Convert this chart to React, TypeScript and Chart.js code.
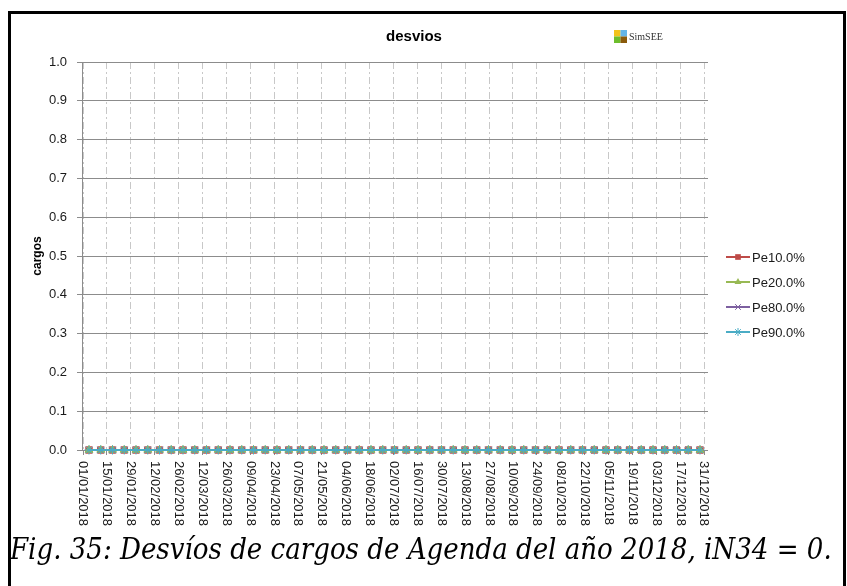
import React, { useEffect, useRef } from 'react';
import { Chart, registerables } from 'chart.js';

Chart.register(...registerables);

// ---- data ----
const weekDates = [
  '01/01/2018', '08/01/2018', '15/01/2018', '22/01/2018', '29/01/2018',
  '05/02/2018', '12/02/2018', '19/02/2018', '26/02/2018',
  '05/03/2018', '12/03/2018', '19/03/2018', '26/03/2018',
  '02/04/2018', '09/04/2018', '16/04/2018', '23/04/2018', '30/04/2018',
  '07/05/2018', '14/05/2018', '21/05/2018', '28/05/2018',
  '04/06/2018', '11/06/2018', '18/06/2018', '25/06/2018',
  '02/07/2018', '09/07/2018', '16/07/2018', '23/07/2018', '30/07/2018',
  '06/08/2018', '13/08/2018', '20/08/2018', '27/08/2018',
  '03/09/2018', '10/09/2018', '17/09/2018', '24/09/2018',
  '01/10/2018', '08/10/2018', '15/10/2018', '22/10/2018', '29/10/2018',
  '05/11/2018', '12/11/2018', '19/11/2018', '26/11/2018',
  '03/12/2018', '10/12/2018', '17/12/2018', '24/12/2018', '31/12/2018',
];

const tickLabels = [
  '01/01/2018', '15/01/2018', '29/01/2018', '12/02/2018', '26/02/2018',
  '12/03/2018', '26/03/2018', '09/04/2018', '23/04/2018', '07/05/2018',
  '21/05/2018', '04/06/2018', '18/06/2018', '02/07/2018', '16/07/2018',
  '30/07/2018', '13/08/2018', '27/08/2018', '10/09/2018', '24/09/2018',
  '08/10/2018', '22/10/2018', '05/11/2018', '19/11/2018', '03/12/2018',
  '17/12/2018', '31/12/2018',
];

const yTicks = [0.0, 0.1, 0.2, 0.3, 0.4, 0.5, 0.6, 0.7, 0.8, 0.9, 1.0];

const pe10 = [
  0, 0, 0, 0, 0, 0, 0, 0, 0, 0, 0, 0, 0, 0, 0, 0, 0, 0, 0, 0, 0, 0, 0, 0, 0, 0, 0,
  0, 0, 0, 0, 0, 0, 0, 0, 0, 0, 0, 0, 0, 0, 0, 0, 0, 0, 0, 0, 0, 0, 0, 0, 0, 0,
];
const pe20 = [
  0, 0, 0, 0, 0, 0, 0, 0, 0, 0, 0, 0, 0, 0, 0, 0, 0, 0, 0, 0, 0, 0, 0, 0, 0, 0, 0,
  0, 0, 0, 0, 0, 0, 0, 0, 0, 0, 0, 0, 0, 0, 0, 0, 0, 0, 0, 0, 0, 0, 0, 0, 0, 0,
];
const pe80 = [
  0, 0, 0, 0, 0, 0, 0, 0, 0, 0, 0, 0, 0, 0, 0, 0, 0, 0, 0, 0, 0, 0, 0, 0, 0, 0, 0,
  0, 0, 0, 0, 0, 0, 0, 0, 0, 0, 0, 0, 0, 0, 0, 0, 0, 0, 0, 0, 0, 0, 0, 0, 0, 0,
];
const pe90 = [
  0, 0, 0, 0, 0, 0, 0, 0, 0, 0, 0, 0, 0, 0, 0, 0, 0, 0, 0, 0, 0, 0, 0, 0, 0, 0, 0,
  0, 0, 0, 0, 0, 0, 0, 0, 0, 0, 0, 0, 0, 0, 0, 0, 0, 0, 0, 0, 0, 0, 0, 0, 0, 0,
];

const seriesNames = ['Pe10.0%', 'Pe20.0%', 'Pe80.0%', 'Pe90.0%'];
const chartTitle = 'desvios';
const yTitle = 'cargos';
const caption = 'Fig. 35: Desvíos de cargos de Agenda del año 2018, iN34 = 0.';

// ---- styles ----
const COLORS = ['#BE4B48', '#98B954', '#7D60A0', '#4AACC5'];
const POINT_STYLES = ['rect', 'triangle', 'crossRot', 'star'];
const AXIS_FONT = '"Liberation Sans", Arial, sans-serif';

function dayOfYear(s: string): number {
  const [d, m, y] = s.split('/').map(Number);
  return (Date.UTC(y, m - 1, d) - Date.UTC(y, 0, 1)) / 86400000;
}

function drawMarker(ctx: CanvasRenderingContext2D, style: string, x: number, y: number, r: number, color: string) {
  ctx.save();
  ctx.fillStyle = color;
  ctx.strokeStyle = color;
  ctx.lineWidth = 1;
  ctx.beginPath();
  if (style === 'rect') {
    const s = r * Math.SQRT1_2;
    ctx.rect(x - s, y - s, 2 * s, 2 * s);
    ctx.fill();
  } else if (style === 'triangle') {
    ctx.moveTo(x, y - r);
    ctx.lineTo(x + r * 0.87, y + r * 0.5);
    ctx.lineTo(x - r * 0.87, y + r * 0.5);
    ctx.closePath();
    ctx.fill();
  } else if (style === 'crossRot') {
    const s = r * Math.SQRT1_2;
    ctx.moveTo(x - s, y - s); ctx.lineTo(x + s, y + s);
    ctx.moveTo(x + s, y - s); ctx.lineTo(x - s, y + s);
    ctx.stroke();
  } else {
    const s = r * Math.SQRT1_2;
    ctx.moveTo(x - s, y - s); ctx.lineTo(x + s, y + s);
    ctx.moveTo(x + s, y - s); ctx.lineTo(x - s, y + s);
    ctx.moveTo(x, y - r); ctx.lineTo(x, y + r);
    ctx.stroke();
  }
  ctx.restore();
}

const decorPlugin = {
  id: 'decor',
  afterDraw(chart: any) {
    const ctx: CanvasRenderingContext2D = chart.ctx;
    const area = chart.chartArea;

    // title
    ctx.save();
    ctx.fillStyle = '#000';
    ctx.font = `bold 15px ${AXIS_FONT}`;
    ctx.textAlign = 'center';
    ctx.textBaseline = 'middle';
    ctx.fillText(chartTitle, 414, 37);

    // SimSEE logo
    const lx = 614, ly = 30, q = 6.5;
    ctx.fillStyle = '#F2C31B'; ctx.fillRect(lx, ly, q, q);
    ctx.fillStyle = '#63B5E8'; ctx.fillRect(lx + q, ly, q, q);
    ctx.fillStyle = '#6DBE2C'; ctx.fillRect(lx, ly + q, q, q);
    ctx.fillStyle = '#8A5A0B'; ctx.fillRect(lx + q, ly + q, q, q);
    ctx.fillStyle = '#333';
    ctx.font = '10px "Liberation Serif", "Times New Roman", serif';
    ctx.textAlign = 'left';
    ctx.fillText('SimSEE', 629, 37);

    // x tick labels, rotated clockwise
    const xs = chart.scales.xg;
    ctx.fillStyle = '#1a1a1a';
    ctx.font = `13px ${AXIS_FONT}`;
    tickLabels.forEach((lab) => {
      const px = xs.getPixelForValue(dayOfYear(lab));
      ctx.save();
      ctx.translate(px, area.bottom + 11);
      ctx.rotate(Math.PI / 2);
      ctx.textAlign = 'left';
      ctx.textBaseline = 'middle';
      ctx.fillText(lab, 0, 0);
      ctx.restore();
    });

    // legend
    const lgX = 726, lgY = 257, step = 25;
    chart.data.datasets.forEach((ds: any, i: number) => {
      const y = lgY + i * step;
      ctx.save();
      ctx.strokeStyle = ds.borderColor;
      ctx.lineWidth = 2;
      ctx.beginPath();
      ctx.moveTo(lgX, y);
      ctx.lineTo(lgX + 24, y);
      ctx.stroke();
      ctx.restore();
      drawMarker(ctx, ds.pointStyle, lgX + 12, y, 4, ds.borderColor);
      ctx.fillStyle = '#1a1a1a';
      ctx.font = `13px ${AXIS_FONT}`;
      ctx.textAlign = 'left';
      ctx.textBaseline = 'middle';
      ctx.fillText(ds.label, lgX + 26, y + 1);
    });
    ctx.restore();
  },
};

export default function App() {
  const canvasRef = useRef<HTMLCanvasElement | null>(null);

  useEffect(() => {
    const canvas = canvasRef.current;
    if (!canvas) return;
    const seriesValues = [pe10, pe20, pe80, pe90];
    const datasets = seriesValues.map((vals, i) => ({
      label: seriesNames[i],
      data: weekDates.map((d, j) => ({ x: dayOfYear(d), y: vals[j] })),
      borderColor: COLORS[i],
      backgroundColor: COLORS[i],
      pointBorderColor: COLORS[i],
      pointBackgroundColor: COLORS[i],
      pointStyle: POINT_STYLES[i],
      pointRadius: 4.5,
      pointBorderWidth: 1,
      borderWidth: 2,
      order: 3 - i,
      clip: false as any,
      xAxisID: 'x',
      yAxisID: 'y',
    }));

    const chart = new Chart(canvas, {
      type: 'line',
      data: { datasets },
      plugins: [decorPlugin],
      options: {
        responsive: false,
        animation: false,
        devicePixelRatio: 1,
        layout: { padding: { left: 24, top: 62, right: 139, bottom: 0 } },
        plugins: {
          legend: { display: false },
          title: { display: false },
          tooltip: { enabled: false },
        },
        scales: {
          x: {
            type: 'linear',
            display: false,
            min: -4.17,
            max: 368.77,
          },
          xg: {
            type: 'linear',
            position: 'bottom',
            min: -0.59,
            max: 366.3,
            afterBuildTicks: (s: any) => {
              s.ticks = tickLabels.map((l) => ({ value: dayOfYear(l) }));
            },
            afterFit: (s: any) => {
              s.height = 136;
            },
            ticks: { display: false },
            grid: {
              color: '#c8c8c8',
              lineWidth: 1,
              drawTicks: true,
              tickLength: 5,
              tickColor: '#8c8c8c',
              tickBorderDash: [],
            },
            border: { display: false, dash: [7, 3, 2, 3] },
          },
          y: {
            type: 'linear',
            min: 0,
            max: 1,
            afterBuildTicks: (s: any) => {
              s.ticks = yTicks.map((v) => ({ value: v }));
            },
            afterFit: (s: any) => {
              s.width = 58;
            },
            ticks: {
              padding: 10,
              color: '#1a1a1a',
              font: { family: AXIS_FONT, size: 13 },
              callback: (v: any) => Number(v).toFixed(1),
            },
            grid: {
              color: '#8c8c8c',
              lineWidth: 1,
              tickLength: 5,
            },
            border: { display: true, color: '#8c8c8c', width: 1 },
            title: {
              display: true,
              text: yTitle,
              color: '#000',
              font: { family: AXIS_FONT, size: 12, weight: 'bold' },
              padding: { top: 6, bottom: 0 },
            },
          },
        },
      },
    } as any);

    return () => {
      chart.destroy();
    };
  }, []);

  return (
    <div style={{ position: 'fixed', left: 0, top: 0, width: 847, height: 586, overflow: 'hidden', background: '#fff' }}>
      <canvas ref={canvasRef} width={847} height={586} style={{ position: 'absolute', left: 0, top: 0, width: 847, height: 586 }} />
      <div
        style={{
          position: 'absolute',
          left: 8,
          top: 11,
          width: 832,
          height: 700,
          border: '3px solid #000',
          pointerEvents: 'none',
        }}
      />
      <div
        style={{
          position: 'absolute',
          left: 10,
          top: 535,
          fontFamily: '"DejaVu Serif", serif',
          fontStyle: 'italic',
          fontStretch: 'condensed',
          fontSize: 29,
          lineHeight: 1,
          whiteSpace: 'nowrap',
          color: '#000',
        }}
      >
        {caption}
      </div>
    </div>
  );
}
